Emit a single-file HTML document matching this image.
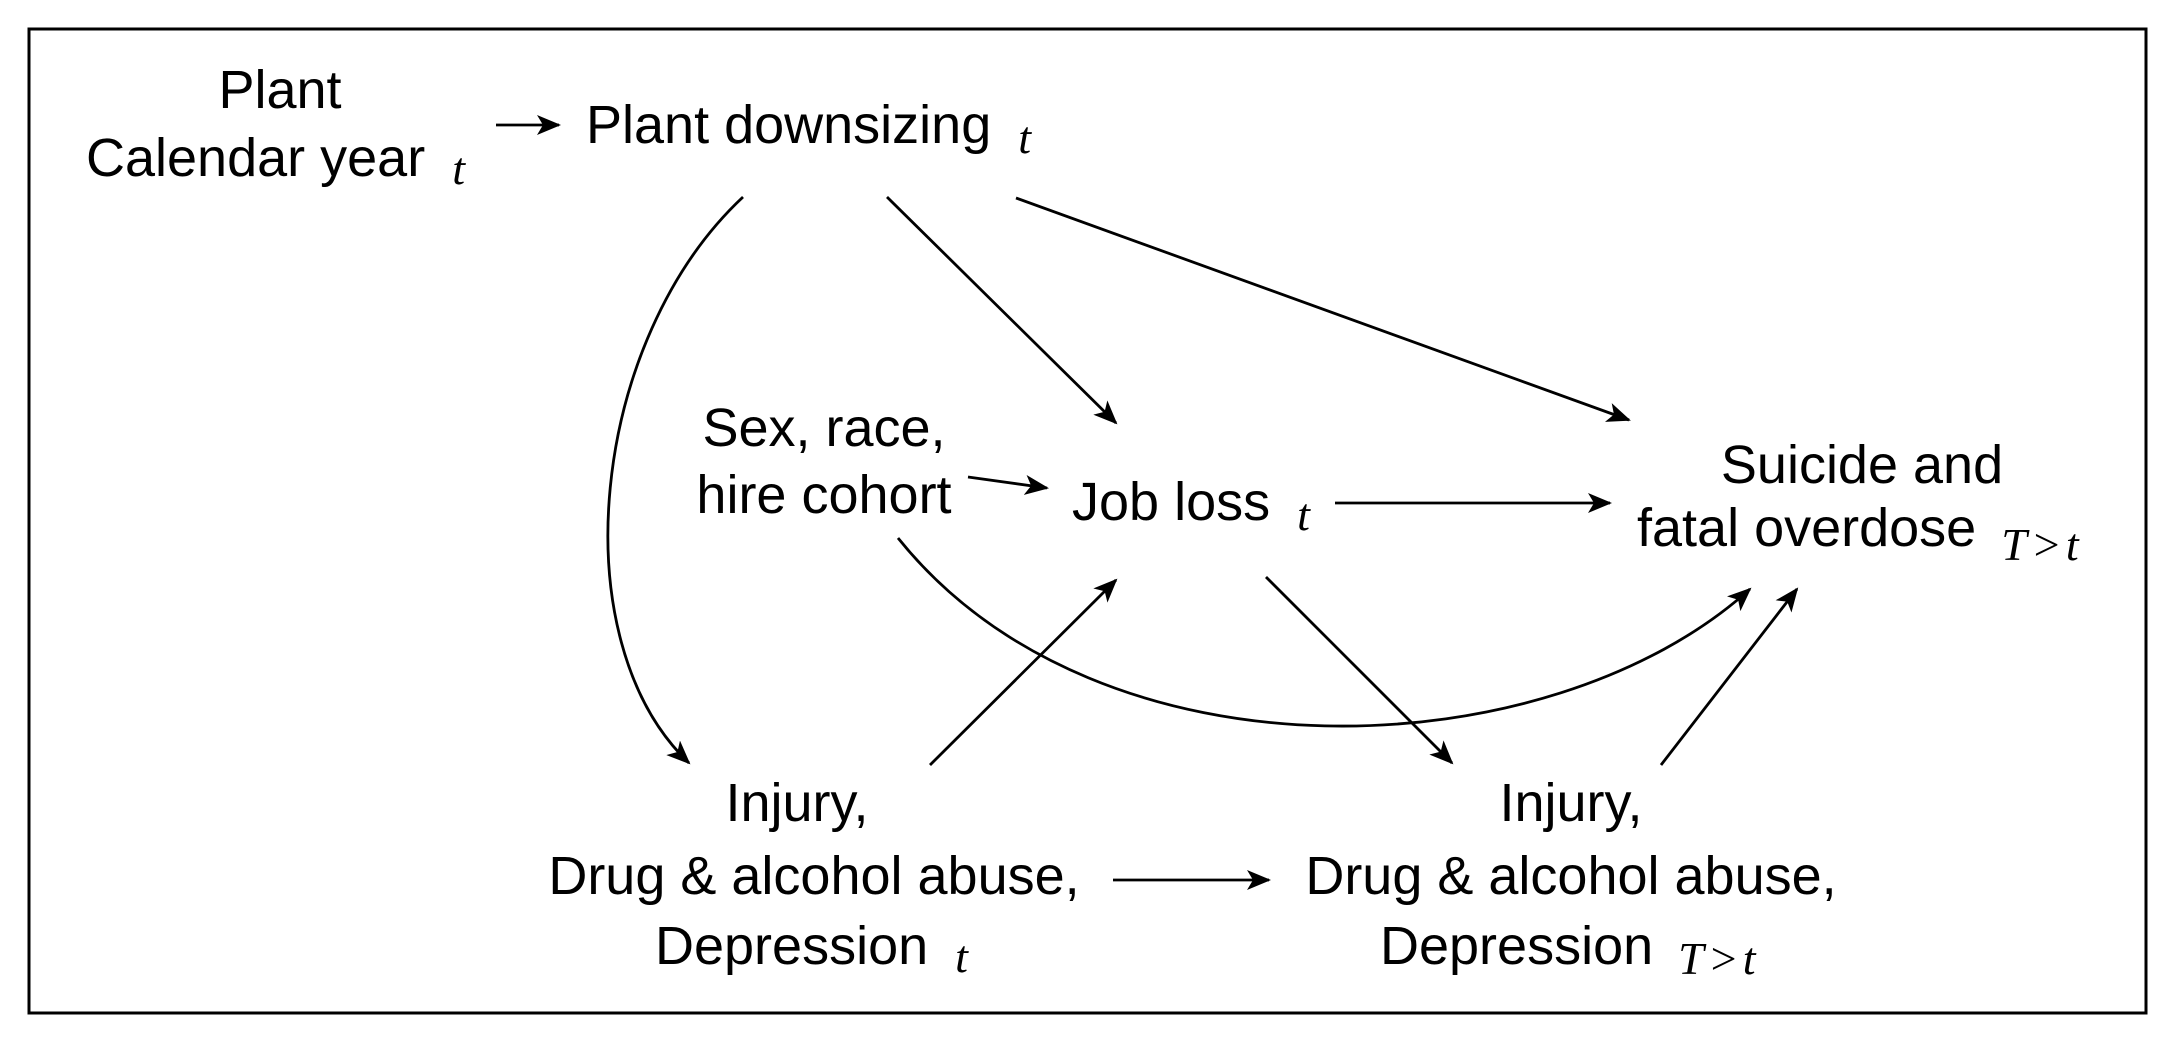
<!DOCTYPE html>
<html><head><style>
html,body{margin:0;padding:0;background:#fff;}
svg{display:block;}
text{font-family:"Liberation Sans",sans-serif;font-size:54px;fill:#000;}
.s{font-family:"Liberation Serif",serif;font-style:italic;font-size:46px;}
</style></head><body>
<svg width="2174" height="1043" viewBox="0 0 2174 1043" xmlns="http://www.w3.org/2000/svg">
<defs>
<marker id="a" viewBox="0 0 24 20" refX="22" refY="10" markerWidth="24" markerHeight="20" markerUnits="userSpaceOnUse" orient="auto">
<path d="M0,0 L24,10 L0,20 L6,10 Z" fill="#000"/>
</marker>
</defs>
<rect x="29" y="29" width="2117" height="984" fill="none" stroke="#000" stroke-width="3"/>
<g stroke="#000" stroke-width="2.8" fill="none" marker-end="url(#a)">
<line x1="496" y1="125" x2="559" y2="125"/>
<path d="M743,197 C590,340 560,640 689,763"/>
<line x1="887" y1="197" x2="1116" y2="423"/>
<line x1="1016" y1="198" x2="1629" y2="420"/>
<line x1="968" y1="477" x2="1047" y2="488"/>
<line x1="1335" y1="503" x2="1610" y2="503"/>
<path d="M898,538 C1100,790 1550,770 1750,589"/>
<line x1="930" y1="765" x2="1116" y2="580"/>
<line x1="1266" y1="577" x2="1452" y2="763"/>
<line x1="1661" y1="765" x2="1797" y2="589"/>
<line x1="1113" y1="880" x2="1269" y2="880"/>
</g>
<text x="280" y="108" text-anchor="middle">Plant</text>
<text x="86" y="176">Calendar year <tspan class="s" dx="12" dy="8">t</tspan></text>
<text x="586" y="143">Plant downsizing <tspan class="s" dx="12" dy="10">t</tspan></text>
<text x="824" y="446" text-anchor="middle">Sex, race,</text>
<text x="824" y="513" text-anchor="middle">hire cohort</text>
<text x="1072" y="520">Job loss <tspan class="s" dx="12" dy="10">t</tspan></text>
<text x="1862" y="483" text-anchor="middle">Suicide and</text>
<text x="1637" y="546">fatal overdose <tspan class="s" dx="10" dy="14" letter-spacing="4">T&gt;t</tspan></text>
<text x="797" y="821" text-anchor="middle">Injury,</text>
<text x="814" y="894" text-anchor="middle">Drug &amp; alcohol abuse,</text>
<text x="655" y="964">Depression <tspan class="s" dx="12" dy="8">t</tspan></text>
<text x="1571" y="821" text-anchor="middle">Injury,</text>
<text x="1571" y="894" text-anchor="middle">Drug &amp; alcohol abuse,</text>
<text x="1380" y="964">Depression <tspan class="s" dx="10" dy="10" letter-spacing="4">T&gt;t</tspan></text>
</svg>
</body></html>
